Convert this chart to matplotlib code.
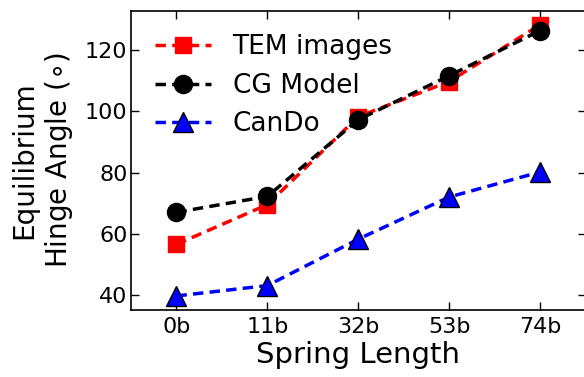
import numpy as np
import matplotlib
matplotlib.use('Agg')
import matplotlib.pyplot as plt

# data
lengths = ['0b', '11b', '32b', '53b', '74b']
tem = [56.5, 69.5, 98.3, 109.8, 128.4]
cg = [67.0, 72.2, 97.3, 111.7, 126.5]
cando = [39.6, 43.0, 58.2, 72.0, 80.2]

plt.rcParams['font.family'] = 'DejaVu Sans'
plt.rcParams['mathtext.fontset'] = 'dejavusans'

fig = plt.figure(figsize=(5.84, 3.77), dpi=100)
ax = fig.add_axes([0.2243, 0.1777, 0.7783, 0.7939])

x = np.arange(len(lengths))
ax.plot(x, tem, color='r', ls='--', dashes=(3, 1.8), lw=2.5, marker='s',
        ms=11, mec='r', mfc='r', label='TEM images')
ax.plot(x, cg, color='k', ls='--', dashes=(3, 1.8), lw=2.5, marker='o',
        ms=13, mec='k', mfc='k', label='CG Model')
ax.plot(x, cando, color='b', ls='--', dashes=(3, 1.8), lw=2.5, marker='^',
        ms=14, mec='k', mfc='b', label='CanDo')

ax.set_xlim(-0.5, 4.5)
ax.set_ylim(35, 133)
ax.set_xticks(x)
ax.set_xticklabels(lengths)
ax.set_yticks([40, 60, 80, 100, 120])
ax.tick_params(direction='in', top=True, right=True, length=6, width=1,
               labelsize=16)
ax.tick_params(axis='x', pad=5)
ax.tick_params(axis='y', pad=2.5)
for s in ax.spines.values():
    s.set_linewidth(1.2)

ax.set_xlabel('Spring Length', fontsize=21, labelpad=3)
ax.set_ylabel('Equilibrium\nHinge Angle ($\\circ$)', fontsize=20, labelpad=7)

ax.legend(loc='upper left', frameon=False, numpoints=1, fontsize=19,
          handlelength=2.15, handletextpad=0.8, labelspacing=0.47,
          borderaxespad=0.5)

fig.savefig('out.png', dpi=100)
